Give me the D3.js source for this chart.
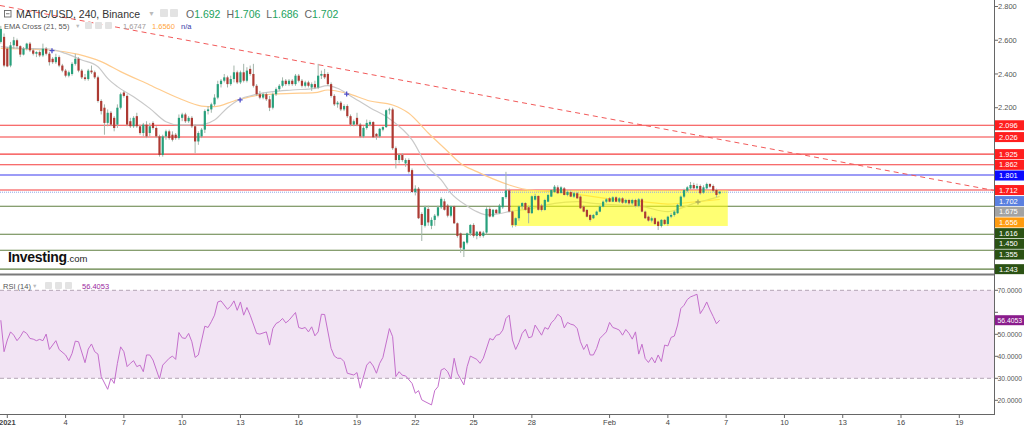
<!DOCTYPE html>
<html><head><meta charset="utf-8">
<script src="https://cdn.jsdelivr.net/npm/d3@7"></script>
<style>
html,body{margin:0;padding:0;background:#fff;overflow:hidden}
svg{display:block;font-family:"Liberation Sans",Arial,sans-serif}
</style></head><body>
<svg id="c" width="1024" height="426"></svg>
<script>
// ---------------- DATA ----------------
const symbolTitle = "MATIC/USD, 240, Binance";
const lastOHLC = [["O","1.692"],["H","1.706"],["L","1.686"],["C","1.702"]];
const emaTitle = "EMA Cross (21, 55)";
const emaValues = ["1.6747","1.6560","n/a"];
const rsiTitle = "RSI (14)";
const rsiValue = 56.4053;

const baseTime = "2021-01-01T00:00:00Z";   // candle index 0
const candleHours = 4;
const firstIndex = -2;                      // first visible candle index
// [open, high, low, close] per 4h candle from index -2 to 220
const ohlc = [
[2.59,2.685,2.58,2.667],[2.62,2.64,2.44,2.45],[2.55,2.56,2.44,2.445],[2.45,2.59,2.44,2.57],[2.57,2.62,2.55,2.60],
[2.60,2.61,2.55,2.565],[2.565,2.57,2.50,2.515],[2.515,2.56,2.51,2.55],[2.55,2.585,2.54,2.58],[2.58,2.59,2.53,2.54],
[2.54,2.55,2.51,2.52],[2.52,2.535,2.50,2.53],[2.53,2.54,2.50,2.51],[2.51,2.58,2.50,2.55],[2.55,2.56,2.51,2.52],
[2.52,2.53,2.45,2.47],[2.49,2.50,2.46,2.47],[2.47,2.52,2.46,2.50],[2.50,2.51,2.44,2.45],[2.45,2.46,2.41,2.42],
[2.42,2.43,2.38,2.39],[2.39,2.42,2.38,2.41],[2.40,2.47,2.39,2.46],[2.46,2.52,2.45,2.49],[2.49,2.50,2.41,2.42],
[2.42,2.43,2.37,2.38],[2.38,2.40,2.36,2.37],[2.37,2.43,2.36,2.42],[2.42,2.45,2.40,2.41],[2.41,2.42,2.37,2.38],
[2.38,2.39,2.23,2.24],[2.24,2.25,2.16,2.18],[2.20,2.22,2.04,2.11],[2.11,2.19,2.09,2.17],[2.17,2.18,2.09,2.10],
[2.14,2.15,2.06,2.08],[2.10,2.22,2.08,2.20],[2.20,2.29,2.19,2.28],[2.29,2.30,2.26,2.27],[2.27,2.28,2.09,2.10],
[2.12,2.14,2.08,2.09],[2.09,2.15,2.08,2.14],[2.15,2.17,2.08,2.09],[2.09,2.10,2.04,2.05],[2.05,2.11,2.03,2.10],
[2.10,2.12,2.02,2.03],[2.05,2.11,2.03,2.09],[2.11,2.12,2.07,2.08],[2.08,2.09,2.02,2.03],[2.03,2.04,1.91,1.92],
[1.92,2.04,1.91,2.03],[2.03,2.07,2.01,2.06],[2.06,2.07,2.01,2.02],[2.04,2.06,2.00,2.01],[2.04,2.05,2.01,2.02],
[2.02,2.16,2.01,2.14],[2.14,2.17,2.12,2.16],[2.16,2.17,2.11,2.12],[2.12,2.15,2.11,2.14],[2.14,2.15,2.08,2.09],
[2.09,2.10,1.93,2.00],[2.00,2.06,1.98,2.05],[2.03,2.08,2.02,2.07],[2.07,2.19,2.05,2.18],[2.18,2.21,2.16,2.19],
[2.19,2.23,2.17,2.22],[2.22,2.28,2.21,2.26],[2.26,2.36,2.25,2.34],[2.34,2.37,2.32,2.36],[2.36,2.40,2.35,2.38],
[2.38,2.39,2.32,2.34],[2.34,2.39,2.33,2.37],[2.37,2.45,2.35,2.41],[2.41,2.42,2.34,2.35],[2.35,2.42,2.34,2.41],
[2.41,2.46,2.35,2.36],[2.36,2.44,2.35,2.42],[2.43,2.45,2.39,2.40],[2.40,2.46,2.32,2.33],[2.33,2.34,2.27,2.28],
[2.28,2.30,2.25,2.26],[2.26,2.29,2.25,2.28],[2.28,2.29,2.24,2.25],[2.25,2.27,2.18,2.20],[2.20,2.29,2.19,2.28],
[2.28,2.32,2.27,2.31],[2.31,2.34,2.30,2.33],[2.33,2.38,2.32,2.36],[2.36,2.37,2.33,2.34],[2.34,2.37,2.33,2.36],
[2.36,2.37,2.33,2.34],[2.34,2.40,2.33,2.39],[2.39,2.40,2.35,2.36],[2.36,2.37,2.32,2.33],[2.33,2.36,2.32,2.35],
[2.35,2.36,2.32,2.33],[2.32,2.35,2.30,2.34],[2.34,2.36,2.31,2.32],[2.32,2.46,2.31,2.39],[2.39,2.42,2.37,2.40],
[2.40,2.43,2.37,2.38],[2.40,2.41,2.33,2.34],[2.34,2.35,2.26,2.27],[2.27,2.28,2.21,2.22],[2.22,2.24,2.20,2.23],
[2.23,2.24,2.18,2.19],[2.19,2.22,2.18,2.21],[2.21,2.22,2.14,2.15],[2.15,2.16,2.09,2.10],[2.10,2.13,2.09,2.12],
[2.14,2.17,2.09,2.10],[2.10,2.11,2.02,2.03],[2.03,2.09,2.02,2.08],[2.08,2.13,2.07,2.11],[2.10,2.125,2.09,2.115],
[2.115,2.12,2.02,2.025],[2.045,2.05,2.01,2.03],[2.03,2.08,2.02,2.075],[2.07,2.09,2.06,2.085],[2.085,2.19,2.08,2.185],
[2.185,2.20,2.16,2.19],[2.19,2.20,1.95,1.96],[1.96,1.97,1.84,1.89],[1.89,1.93,1.87,1.92],[1.92,1.93,1.88,1.89],
[1.87,1.90,1.85,1.89],[1.89,1.90,1.81,1.82],[1.83,1.84,1.70,1.70],[1.70,1.74,1.68,1.72],[1.72,1.73,1.54,1.545],
[1.57,1.58,1.41,1.505],[1.50,1.62,1.49,1.61],[1.60,1.62,1.50,1.52],[1.50,1.55,1.48,1.535],[1.535,1.57,1.50,1.56],
[1.56,1.62,1.55,1.61],[1.61,1.67,1.60,1.66],[1.645,1.66,1.59,1.595],[1.62,1.63,1.55,1.56],[1.56,1.62,1.55,1.615],
[1.615,1.62,1.51,1.515],[1.515,1.52,1.43,1.44],[1.455,1.46,1.34,1.37],[1.36,1.41,1.315,1.405],[1.40,1.46,1.39,1.455],
[1.455,1.51,1.44,1.505],[1.505,1.515,1.43,1.44],[1.44,1.47,1.42,1.465],[1.465,1.47,1.43,1.44],[1.44,1.47,1.43,1.46],
[1.46,1.61,1.45,1.60],[1.60,1.61,1.55,1.555],[1.555,1.60,1.55,1.595],[1.595,1.60,1.57,1.575],[1.575,1.63,1.57,1.62],
[1.61,1.67,1.60,1.67],[1.67,1.82,1.66,1.71],[1.71,1.72,1.58,1.585],[1.585,1.59,1.49,1.505],[1.505,1.55,1.495,1.545],
[1.545,1.62,1.53,1.615],[1.615,1.64,1.60,1.635],[1.635,1.64,1.59,1.595],[1.61,1.62,1.515,1.575],[1.575,1.68,1.57,1.675],
[1.655,1.69,1.65,1.677],[1.677,1.68,1.59,1.595],[1.62,1.63,1.585,1.594],[1.594,1.66,1.59,1.653],[1.643,1.69,1.64,1.683],
[1.673,1.715,1.67,1.712],[1.70,1.742,1.695,1.732],[1.728,1.74,1.69,1.693],[1.695,1.735,1.69,1.728],[1.722,1.73,1.68,1.683],
[1.683,1.71,1.675,1.70],[1.70,1.71,1.67,1.673],[1.673,1.70,1.665,1.693],[1.693,1.70,1.66,1.663],[1.673,1.68,1.60,1.604],
[1.614,1.62,1.58,1.584],[1.594,1.60,1.55,1.554],[1.564,1.57,1.525,1.535],[1.545,1.57,1.54,1.564],[1.564,1.59,1.56,1.584],
[1.584,1.62,1.58,1.614],[1.614,1.65,1.61,1.643],[1.643,1.665,1.635,1.657],[1.663,1.67,1.64,1.643],[1.643,1.675,1.64,1.669],
[1.669,1.675,1.64,1.643],[1.643,1.67,1.635,1.663],[1.663,1.67,1.63,1.637],[1.637,1.66,1.63,1.653],[1.653,1.66,1.625,1.633],
[1.633,1.66,1.625,1.653],[1.653,1.66,1.61,1.618],[1.618,1.665,1.61,1.657],[1.657,1.665,1.58,1.584],[1.584,1.59,1.54,1.545],
[1.554,1.56,1.525,1.531],[1.531,1.555,1.52,1.545],[1.545,1.55,1.505,1.511],[1.525,1.53,1.475,1.499],[1.499,1.54,1.49,1.535],
[1.535,1.54,1.505,1.511],[1.511,1.56,1.50,1.554],[1.554,1.575,1.545,1.564],[1.564,1.59,1.555,1.584],[1.575,1.63,1.57,1.624],
[1.618,1.68,1.61,1.673],[1.673,1.72,1.665,1.712],[1.708,1.735,1.70,1.728],[1.722,1.76,1.715,1.742],[1.742,1.755,1.72,1.722],
[1.722,1.75,1.715,1.736],[1.736,1.745,1.685,1.693],[1.697,1.74,1.69,1.728],[1.722,1.756,1.715,1.748],[1.748,1.752,1.725,1.732],
[1.736,1.745,1.70,1.708],[1.712,1.72,1.67,1.683],[1.692,1.706,1.686,1.702]
];
// EMA lines: [candle index, value]
const ema21 = [[-2,2.562],[4,2.552],[13,2.548],[18,2.522],[23,2.483],[28,2.443],[31,2.374],[34,2.325],[39,2.265],[44,2.196],
[49,2.117],[53,2.098],[59,2.098],[64,2.127],[68,2.200],[72,2.252],[76,2.275],[82,2.295],[88,2.305],[95,2.315],[99,2.331],
[102,2.315],[106,2.27],[112,2.20],[118,2.135],[125,2.009],[130,1.845],[134,1.772],[137,1.694],[142,1.618],[145,1.584],
[148,1.565],[152,1.572],[155,1.584],[162,1.603],[169,1.633],[176,1.643],[181,1.633],[189,1.623],[196,1.614],[204,1.584],
[208,1.603],[212,1.633],[216,1.653],[220,1.675]];
const ema55 = [[-2,2.552],[13,2.542],[22,2.516],[29,2.473],[35,2.414],[44,2.335],[53,2.256],[60,2.210],[64,2.206],[70,2.240],
[76,2.269],[82,2.281],[88,2.285],[95,2.289],[99,2.305],[105,2.285],[112,2.240],[119,2.216],[124,2.167],[130,2.05],[135,1.96],
[140,1.87],[145,1.821],[150,1.778],[155,1.742],[160,1.716],[167,1.704],[173,1.693],[181,1.673],[189,1.653],[196,1.643],
[204,1.629],[212,1.641],[220,1.656]];
const emaCross = [[13.8,2.538],[71.9,2.246],[104.8,2.281],[213.3,1.641]];
// RSI(14): [candle index, value]
const rsi = [[-2,56.4],[-1,42.1],[0,47.4],[1,51.1],[2,49.6],[3,47.1],[4,48.9],[5,51.4],[6,50.4],[7,48.1],[8,47.8],[9,47.1],
[10,47.7],[11,47.1],[12,50.1],[13,43.1],[15,47.1],[16,43.1],[18,40.6],[19,38.0],[20,41.3],[21,46.9],[22,46.6],[24,37.1],
[25,43.3],[26,45.6],[27,42.1],[28,41.0],[29,30.8],[31,25.0],[32,30.0],[33,27.7],[34,36.8],[35,44.3],[36,42.1],[37,35.3],
[38,36.8],[39,38.0],[40,35.3],[41,36.0],[42,33.0],[43,40.6],[44,40.6],[45,38.3],[47,29.7],[48,36.0],[50,39.1],[51,40.1],
[52,38.6],[53,50.8],[54,48.4],[55,48.1],[56,50.4],[57,46.6],[58,39.5],[59,40.6],[61,53.7],[62,53.1],[63,55.7],[64,58.7],
[65,64.7],[66,65.2],[68,61.4],[69,62.8],[70,65.2],[71,60.9],[72,64.7],[73,58.7],[74,62.2],[75,58.7],[77,50.4],[78,50.1],
[80,51.1],[81,45.1],[82,52.6],[83,54.9],[84,55.7],[85,57.2],[86,55.2],[87,56.4],[89,59.9],[90,53.1],[91,52.6],[92,53.1],
[93,51.1],[94,53.4],[95,49.3],[96,51.1],[97,59.1],[98,59.0],[100,43.6],[101,40.1],[102,39.1],[103,39.1],[104,37.6],
[105,32.3],[107,31.5],[108,32.6],[109,25.5],[111,36.0],[112,37.6],[113,35.6],[114,32.3],[115,36.8],[116,39.5],[118,52.6],
[119,48.9],[120,30.8],[121,33.0],[122,31.4],[123,31.1],[125,27.7],[126,23.2],[127,24.4],[128,20.2],[129,19.4],[131,17.9],
[132,24.4],[133,26.2],[134,33.8],[135,34.5],[136,33.0],[137,29.7],[138,39.1],[139,32.3],[141,27.0],[142,35.3],[143,40.1],
[145,38.6],[146,36.8],[147,39.1],[149,48.1],[150,47.4],[151,49.6],[152,49.9],[153,51.9],[154,57.2],[155,58.7],[156,47.4],
[157,43.1],[158,46.2],[159,50.4],[160,52.3],[161,48.4],[162,48.9],[163,54.2],[164,51.9],[165,49.6],[166,53.1],[167,52.3],
[168,55.2],[169,56.7],[170,59.1],[171,57.9],[172,52.9],[173,55.4],[174,54.6],[175,54.2],[176,52.6],[177,46.6],[178,43.1],
[179,45.5],[180,40.6],[181,40.6],[182,43.6],[183,48.1],[184,49.6],[185,51.1],[186,55.4],[187,53.1],[188,52.6],[189,51.9],
[190,49.6],[191,52.2],[192,50.4],[193,47.8],[194,51.1],[195,41.0],[196,45.5],[197,39.0],[198,37.2],[199,39.5],[200,37.0],
[201,40.6],[202,37.6],[203,45.1],[204,44.7],[205,48.6],[206,49.2],[207,54.2],[208,61.7],[209,63.2],[210,65.8],[211,67.0],
[212,67.6],[213,68.2],[214,59.4],[215,61.7],[216,64.7],[217,61.1],[218,58.1],[219,54.8],[220,56.4053]];

const redLevels = [2.096, 2.026, 1.925, 1.862, 1.712];
const blueLevels = [1.801];
const greenLevels = [1.616, 1.450, 1.355, 1.243];
const lastPrice = 1.702;
const ema21Last = 1.675, ema55Last = 1.656;
const trendline = [["2021-01-01T00:00:00Z", 2.798], ["2021-02-19T00:00:00Z", 1.748]];
const zoneTimes = ["2021-01-26T22:00:00Z", "2021-02-07T02:00:00Z"];
const zonePrices = [1.710, 1.499];
const xTicks = [["2021-01-01","2021"],["2021-01-04","4"],["2021-01-07","7"],["2021-01-10","10"],["2021-01-13","13"],
["2021-01-16","16"],["2021-01-19","19"],["2021-01-22","22"],["2021-01-25","25"],["2021-01-28","28"],["2021-02-01","Feb"],
["2021-02-04","4"],["2021-02-07","7"],["2021-02-10","10"],["2021-02-13","13"],["2021-02-16","16"],["2021-02-19","19"]];
const priceTicks = [2.8, 2.6, 2.4, 2.2, 2.0, 1.8, 1.6, 1.4];
const rsiTicks = [70, 60, 50, 40, 30, 20];
const rsiBand = [30, 70];

// ---------------- CHART ----------------
const W = 1024, axisX = 994, mainBottom = 272, rsiTop = 276, axisY = 414;
const svg = d3.select("#c");
const t0 = new Date(baseTime);
const tOf = i => new Date(t0.getTime() + i * candleHours * 3600e3);
const x = d3.scaleUtc().domain([new Date("2021-01-01T00:00:00Z"), new Date("2021-02-19T00:00:00Z")]).range([7.3, 959.3]);
const y = d3.scaleLinear().domain([1.2, 2.8]).range([6.5 + 1.6 * 168.7, 6.5]);
const yr = d3.scaleLinear().domain([30, 70]).range([378.3, 290.3]);

const defs = svg.append("defs");
defs.append("clipPath").attr("id","mainClip").append("rect").attr("x",0).attr("y",0).attr("width",axisX).attr("height",mainBottom);
defs.append("clipPath").attr("id","rsiClip").append("rect").attr("x",0).attr("y",rsiTop).attr("width",axisX).attr("height",axisY-rsiTop);

svg.append("rect").attr("width",W).attr("height",426).attr("fill","#fff");

// RSI band
const rg = svg.append("g").attr("clip-path","url(#rsiClip)");
rg.append("rect").attr("x",0).attr("width",axisX).attr("y",yr(rsiBand[1])).attr("height",yr(rsiBand[0])-yr(rsiBand[1])).attr("fill","#f2e4f4");
rsiBand.forEach(v => rg.append("line").attr("x1",0).attr("x2",axisX).attr("y1",yr(v)).attr("y2",yr(v))
  .attr("stroke","#b4a4b4").attr("stroke-dasharray","4,3").attr("stroke-width",1));
rg.append("path").datum(rsi).attr("fill","none").attr("stroke","#c46fcc").attr("stroke-width",1)
  .attr("d", d3.line().x(d => x(tOf(d[0]))).y(d => yr(d[1])));

// main pane
const mg = svg.append("g").attr("clip-path","url(#mainClip)");
const hline = (v, col) => mg.append("line").attr("x1",0).attr("x2",axisX).attr("y1",y(v)).attr("y2",y(v)).attr("stroke",col).attr("stroke-width",1.1);
redLevels.forEach(v => hline(v, "#f53d3d"));
blueLevels.forEach(v => hline(v, "#3b3bf0"));
greenLevels.forEach(v => hline(v, "#5f7f40"));

// trendline extended across the pane
{
  const p1 = [x(new Date(trendline[0][0])), y(trendline[0][1])];
  const p2 = [x(new Date(trendline[1][0])), y(trendline[1][1])];
  const s = (p2[1]-p1[1])/(p2[0]-p1[0]);
  mg.append("line").attr("x1",0).attr("y1",p1[1]-s*p1[0]).attr("x2",axisX).attr("y2",p1[1]+s*(axisX-p1[0]))
    .attr("stroke","#f25a5a").attr("stroke-width",1).attr("stroke-dasharray","5,4");
}

// EMA lines
const eline = d3.line().curve(d3.curveMonotoneX).x(d => x(tOf(d[0]))).y(d => y(d[1]));
mg.append("path").datum(ema55).attr("fill","none").attr("stroke","#ffcc8e").attr("stroke-width",1.2).attr("d",eline);
mg.append("path").datum(ema21).attr("fill","none").attr("stroke","#c9c9c9").attr("stroke-width",1.2).attr("d",eline);
emaCross.forEach(d => {
  const cx = x(tOf(d[0])), cy = y(d[1]);
  mg.append("path").attr("d",`M${cx-2.5},${cy}H${cx+2.5}M${cx},${cy-2.5}V${cy+2.5}`).attr("stroke","#5050cc").attr("stroke-width",1.3);
});

// yellow zone
mg.append("rect").attr("x",x(new Date(zoneTimes[0]))).attr("width",x(new Date(zoneTimes[1]))-x(new Date(zoneTimes[0])))
  .attr("y",y(zonePrices[0])).attr("height",y(zonePrices[1])-y(zonePrices[0]))
  .attr("fill","#ffff00").attr("fill-opacity",0.55);

// last price dotted line
mg.append("line").attr("x1",0).attr("x2",axisX).attr("y1",y(lastPrice)+0.5).attr("y2",y(lastPrice)+0.5)
  .attr("stroke","#90a8e6").attr("stroke-width",1).attr("stroke-dasharray","1,1");

// candles
const cg = mg.append("g");
ohlc.forEach((c, k) => {
  const i = firstIndex + k, cx = x(tOf(i));
  const up = c[3] >= c[0];
  cg.append("line").attr("x1",cx).attr("x2",cx).attr("y1",y(c[1])).attr("y2",y(c[2])).attr("stroke","#a3b5aa").attr("stroke-width",1);
  const top = y(Math.max(c[0],c[3])), bot = y(Math.min(c[0],c[3]));
  cg.append("rect").attr("x",cx-1.1).attr("width",2.2).attr("y",top).attr("height",Math.max(0.8,bot-top))
    .attr("fill", up ? "#27a07c" : "#ad3a33");
});

// Investing.com logo
const logo = svg.append("text").attr("x",8).attr("y",261.5).attr("fill","#111");
logo.append("tspan").text("Investing").attr("font-weight","700").attr("font-size","14px").attr("letter-spacing","-0.3");
logo.append("tspan").text(".com").attr("font-size","9.5px").attr("fill","#222");

// separators & axes
svg.append("line").attr("x1",0).attr("x2",axisX).attr("y1",274.5).attr("y2",274.5).attr("stroke","#7a7a7a").attr("stroke-width",2);
svg.append("line").attr("x1",axisX+0.5).attr("x2",axisX+0.5).attr("y1",0).attr("y2",axisY).attr("stroke","#666").attr("stroke-width",1);
svg.append("line").attr("x1",0).attr("x2",axisX+1).attr("y1",axisY+0.5).attr("y2",axisY+0.5).attr("stroke","#666").attr("stroke-width",1);

// x ticks
xTicks.forEach(([d, lab]) => {
  const xx = x(new Date(d + "T00:00:00Z"));
  svg.append("line").attr("x1",xx).attr("x2",xx).attr("y1",axisY+1).attr("y2",axisY+4).attr("stroke","#666");
  svg.append("text").attr("x",xx).attr("y",424.5).attr("text-anchor","middle").attr("font-size","7.5px")
    .attr("fill","#444").attr("font-weight", lab === "2021" ? "700" : "400").text(lab);
});

// price label boxes (stacked to avoid overlap)
const boxes = [];
redLevels.forEach(v => boxes.push({v, col:"#ff1e1e"}));
blueLevels.forEach(v => boxes.push({v, col:"#0a0aff"}));
greenLevels.forEach(v => boxes.push({v, col:"#2b5214"}));
boxes.push({v:lastPrice, col:"#5b80e0"}, {v:ema21Last, col:"#a3a3a3"}, {v:ema55Last, col:"#ff9b0f"});
boxes.sort((a,b) => b.v - a.v);
let prev = -100;
boxes.forEach(b => {
  let yy = y(b.v); if (b.v === lastPrice) yy = prev + 11;
  if (yy < prev + 10.7) yy = prev + 10.7;
  prev = yy; b.y = yy;
});

// right axis ticks (labels hidden where a price box covers them)
priceTicks.forEach(v => {
  const yy = y(v);
  svg.append("line").attr("x1",axisX+1).attr("x2",axisX+4).attr("y1",yy).attr("y2",yy).attr("stroke","#666");
  if (boxes.some(b => Math.abs(b.y - yy) < 9)) return;
  svg.append("text").attr("x",998).attr("y",yy).attr("dy","0.35em").attr("font-size","7.5px").attr("fill","#555").text(v.toFixed(3));
});
const rsiBoxY = yr(rsiValue);
rsiTicks.forEach(v => {
  const yy = yr(v);
  svg.append("line").attr("x1",axisX+1).attr("x2",axisX+4).attr("y1",yy).attr("y2",yy).attr("stroke","#666");
  if (Math.abs(rsiBoxY - yy) < 9) return;
  svg.append("text").attr("x",997.5).attr("y",yy).attr("dy","0.35em").attr("font-size","6.8px").attr("fill","#555").text(v.toFixed(4));
});

boxes.forEach(b => {
  svg.append("rect").attr("x",axisX+1).attr("y",b.y-5).attr("width",W-axisX-1).attr("height",10).attr("fill",b.col);
  svg.append("text").attr("x",999).attr("y",b.y).attr("dy","0.35em").attr("font-size","7.5px").attr("fill","#fff").text(b.v.toFixed(3));
});
// RSI value box
svg.append("rect").attr("x",axisX+1).attr("y",rsiBoxY-5).attr("width",W-axisX-1).attr("height",10).attr("fill","#8a1c8c");
svg.append("text").attr("x",997.5).attr("y",rsiBoxY).attr("dy","0.35em").attr("font-size","6.8px").attr("fill","#fff").text(rsiValue.toFixed(4));

// header / legends
const icon = (xx, yy, s) => svg.append("rect").attr("x",xx).attr("y",yy).attr("width",s).attr("height",s).attr("rx",1).attr("fill","#e3e3e3");
svg.append("rect").attr("x",4.5).attr("y",10.5).attr("width",6.5).attr("height",6.5).attr("fill","none").attr("stroke","#666").attr("stroke-width",0.9);
svg.append("line").attr("x1",6).attr("x2",9.5).attr("y1",13.75).attr("y2",13.75).attr("stroke","#666").attr("stroke-width",0.9);
svg.append("text").attr("x",16).attr("y",17.5).attr("font-size","10.5px").attr("fill","#333").text(symbolTitle);
svg.append("text").attr("x",148).attr("y",16).attr("font-size","7px").attr("fill","#bbb").text("▼");
icon(160,9,8); icon(170,9,8);
const oh = svg.append("text").attr("x",186).attr("y",17.5).attr("font-size","10.5px");
lastOHLC.forEach(([k,v], j) => {
  oh.append("tspan").attr("fill","#666").attr("dx", j ? 6 : 0).text(k);
  oh.append("tspan").attr("fill","#22a25e").text(v);
});
svg.append("text").attr("x",4).attr("y",29).attr("font-size","7.5px").attr("fill","#555").text(emaTitle);
svg.append("text").attr("x",75).attr("y",28).attr("font-size","5.5px").attr("fill","#bbb").text("▼");
icon(85,22,7); icon(95,22,7); icon(105,22,7);
const emaCols = ["#a09a9a","#ffa640","#3a3aa8"], emaX = [123,152,181];
emaValues.forEach((v,j) => svg.append("text").attr("x",emaX[j]).attr("y",29).attr("font-size","7.5px").attr("fill",emaCols[j]).text(v));

svg.append("text").attr("x",3).attr("y",288.5).attr("font-size","7.5px").attr("fill","#555").text(rsiTitle);
svg.append("text").attr("x",32).attr("y",288).attr("font-size","5.5px").attr("fill","#bbb").text("▼");
icon(45,282,7); icon(55,282,7); icon(65,282,7);
svg.append("text").attr("x",82).attr("y",288.5).attr("font-size","7.5px").attr("fill","#9b2aa0").text(rsiValue.toFixed(4));
</script>
</body></html>
